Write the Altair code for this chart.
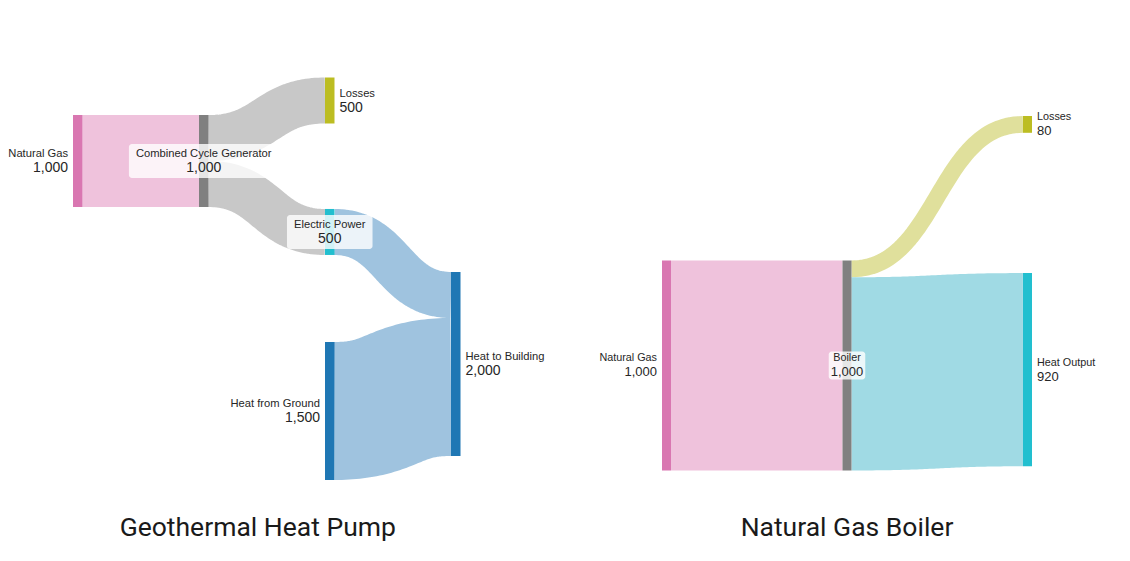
import altair as alt
import pandas as pd
import numpy as np

# ---------------- data ----------------
# Geothermal Heat Pump
gh_nodes = ["Natural Gas", "Combined Cycle Generator", "Losses", "Electric Power",
            "Heat from Ground", "Heat to Building"]
gh_stage = [0, 1, 2, 2, 2, 3]
gh_src = ["Natural Gas", "Combined Cycle Generator", "Combined Cycle Generator",
          "Electric Power", "Heat from Ground"]
gh_tgt = ["Combined Cycle Generator", "Losses", "Electric Power",
          "Heat to Building", "Heat to Building"]
gh_val = [1000, 500, 500, 500, 1500]

# Natural Gas Boiler
nb_nodes = ["Natural Gas", "Boiler", "Losses", "Heat Output"]
nb_stage = [0, 1, 2, 2]
nb_src = ["Natural Gas", "Boiler", "Boiler"]
nb_tgt = ["Boiler", "Losses", "Heat Output"]
nb_val = [1000, 80, 920]

titles = ["Geothermal Heat Pump", "Natural Gas Boiler"]

# ---------------- layout / style (not data) ----------------
gh_top = {"Natural Gas": 408, "Combined Cycle Generator": 408, "Losses": 0,
          "Electric Power": 1429, "Heat from Ground": 2875, "Heat to Building": 2114}
nb_top = {"Natural Gas": 688, "Boiler": 688, "Losses": 0, "Heat Output": 748}

gh_node_col = ["#d977b1", "#808080", "#bcbd22", "#22bfcf", "#1f77b4", "#1f77b4"]
gh_link_col = ["#efc2dc", "#c8c8c8", "#c8c8c8", "#9fc3df", "#9fc3df"]
nb_node_col = ["#d977b1", "#808080", "#bcbd22", "#22bfcf"]
nb_link_col = ["#efc2dc", "#e0e09c", "#a0dae4"]

LABEL_FONT = "Liberation Sans, Arial, sans-serif"
TITLE_FONT = "Roboto, Noto Sans, sans-serif"
W, H = 1114, 545

# approximate Arial advance widths (per 1000 em) for sizing label boxes
_AW = {"i": 222, "l": 222, "j": 222, "t": 278, "f": 278, "r": 333, " ": 278, ",": 278,
       "c": 500, "k": 500, "s": 500, "v": 500, "x": 500, "y": 500, "z": 500,
       "m": 833, "w": 722, "B": 667, "E": 667, "P": 667, "L": 556, "C": 722,
       "H": 722, "N": 722, "G": 778, "O": 778}


def text_w(s, size):
    return sum(_AW.get(ch, 556) for ch in s) * size / 1000


def sankey(nodes, stages, tops, src, tgt, vals, ncol, lcol,
           px_stage, x0_px, px_unit, y0_px, node_px, title, title_dx, box_pad, box_h,
           name_fs, val_fs):
    nw = node_px / px_stage
    stage = dict(zip(nodes, stages))
    nin = {n: sum(v for s, t, v in zip(src, tgt, vals) if t == n) for n in nodes}
    nout = {n: sum(v for s, t, v in zip(src, tgt, vals) if s == n) for n in nodes}
    nval = {n: max(nin[n], nout[n]) for n in nodes}

    ndf = pd.DataFrame({
        "name": nodes,
        "stage": stages,
        "x2": [s + nw for s in stages],
        "top": [tops[n] for n in nodes],
        "bottom": [tops[n] + nval[n] for n in nodes],
        "value": [nval[n] for n in nodes],
        "color": ncol,
    })
    ndf["mid"] = (ndf["top"] + ndf["bottom"]) / 2
    side = []
    for n in nodes:
        if nin[n] == 0:
            side.append("left")
        elif nout[n] == 0:
            side.append("right")
        else:
            side.append("center")
    ndf["side"] = side
    ndf["lx"] = [s if sd == "left" else (s + nw if sd == "right" else s + nw / 2)
                 for s, sd in zip(stages, side)]
    ndf["vtxt"] = [f"{v:,}" for v in ndf["value"]]
    bw = np.array([max(text_w(n, name_fs), text_w(v, val_fs)) + box_pad
                   for n, v in zip(ndf["name"], ndf["vtxt"])])
    ndf["bx0"] = ndf["lx"] - bw / 2 / px_stage
    ndf["bx1"] = ndf["lx"] + bw / 2 / px_stage
    ndf["by0"] = ndf["mid"] - box_h / 2 / px_unit
    ndf["by1"] = ndf["mid"] + box_h / 2 / px_unit

    idx = list(range(len(src)))
    sy, ty = {}, {}
    for n in nodes:
        outs = sorted([i for i in idx if src[i] == n], key=lambda i: tops[tgt[i]])
        acc = tops[n]
        for i in outs:
            sy[i] = acc + vals[i] / 2
            acc += vals[i]
        ins = sorted([i for i in idx if tgt[i] == n], key=lambda i: tops[src[i]])
        acc = tops[n]
        for i in ins:
            ty[i] = acc + vals[i] / 2
            acc += vals[i]
    rows = []
    ts = np.linspace(0, 1, 60)
    for i in idx:
        xa = stage[src[i]] + nw
        xb = stage[tgt[i]]
        xm = (xa + xb) / 2
        for k, t in enumerate(ts):
            x = (1 - t) ** 3 * xa + 3 * (1 - t) ** 2 * t * xm + 3 * (1 - t) * t ** 2 * xm + t ** 3 * xb
            y = sy[i] * ((1 - t) ** 3 + 3 * (1 - t) ** 2 * t) + ty[i] * (3 * (1 - t) * t ** 2 + t ** 3)
            rows.append({"link": i, "k": k, "x": x, "y": y, "value": vals[i], "color": lcol[i]})
    ldf = pd.DataFrame(rows)

    xs = alt.Scale(domain=[-x0_px / px_stage, (W - x0_px) / px_stage], nice=False, zero=False)
    ys = alt.Scale(domain=[-y0_px / px_unit, (H - y0_px) / px_unit], nice=False, zero=False, reverse=True)
    ss = alt.Scale(type="linear", domain=[0, 1000], range=[0, 1000 * px_unit], zero=True)

    links = alt.Chart(ldf).mark_line(strokeCap="butt", strokeJoin="round").encode(
        x=alt.X("x:Q", scale=xs, axis=None),
        y=alt.Y("y:Q", scale=ys, axis=None),
        detail="link:N",
        order="k:Q",
        size=alt.Size("value:Q", scale=ss, legend=None),
        color=alt.Color("color:N", scale=None),
    )
    base = alt.Chart(ndf)
    rects = base.mark_rect().encode(
        x=alt.X("stage:Q", scale=xs, axis=None), x2="x2:Q",
        y=alt.Y("top:Q", scale=ys, axis=None), y2="bottom:Q",
        color=alt.Color("color:N", scale=None),
    )
    boxes = base.transform_filter(alt.datum.side == "center").mark_rect(
        color="white", opacity=0.8, cornerRadius=3).encode(
        x="bx0:Q", x2="bx1:Q", y="by0:Q", y2="by1:Q")

    layers = [links, rects, boxes]
    for sd, al, dx in [("left", "right", -5), ("right", "left", 5), ("center", "center", 0)]:
        f = base.transform_filter(alt.datum.side == sd)
        layers.append(f.mark_text(align=al, baseline="middle", dx=dx, dy=-7, fontSize=name_fs,
                                  font=LABEL_FONT, color="#262626").encode(
            x="lx:Q", y="mid:Q", text="name:N"))
        layers.append(f.mark_text(align=al, baseline="middle", dx=dx, dy=7, fontSize=val_fs,
                                  font=LABEL_FONT, color="#262626").encode(
            x="lx:Q", y="mid:Q", text="vtxt:N"))

    tdf = pd.DataFrame({"title": [title], "cx": [(max(stages) + nw) / 2]})
    layers.append(alt.Chart(tdf).mark_text(align="center", baseline="middle", fontSize=26.5,
                                           font=TITLE_FONT, color="#1a1a1a", dx=title_dx).encode(
        x="cx:Q", y=alt.value(519.5), text="title:N"))
    return alt.layer(*layers)


left = sankey(gh_nodes, gh_stage, gh_top, gh_src, gh_tgt, gh_val, gh_node_col, gh_link_col,
              px_stage=126, x0_px=65, px_unit=0.092, y0_px=69.5, node_px=9.5,
              title=titles[0], title_dx=-9, box_pad=14, box_h=34, name_fs=11.2, val_fs=14)
right = sankey(nb_nodes, nb_stage, nb_top, nb_src, nb_tgt, nb_val, nb_node_col, nb_link_col,
               px_stage=180.5, x0_px=654, px_unit=0.21, y0_px=108, node_px=9,
               title=titles[1], title_dx=0, box_pad=4, box_h=28, name_fs=10.8, val_fs=13)

chart = alt.layer(left, right).resolve_scale(
    x="independent", y="independent", size="independent"
).properties(
    width=W, height=H, padding=0, autosize=alt.AutoSizeParams(type="none")
).configure_view(stroke=None)

chart.save("out.html", embed_options={"renderer": "svg", "actions": False})
